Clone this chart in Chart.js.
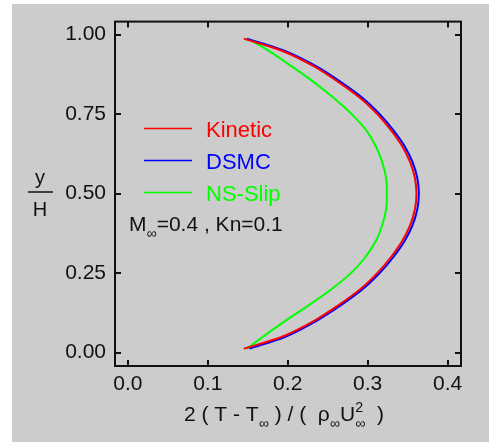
<!DOCTYPE html>
<html>
<head>
<meta charset="utf-8">
<script src="https://cdn.jsdelivr.net/npm/chart.js@4.4.1/dist/chart.umd.min.js"></script>
<style>
  html, body { margin: 0; padding: 0; background: #fff; }
  canvas { display: block; }
</style>
</head>
<body>
<canvas id="grafico" width="489" height="443"></canvas>
<script>
// y/H across the channel
const posY = [0.0125, 0.05, 0.10, 0.15, 0.20, 0.25, 0.30, 0.35, 0.40, 0.45, 0.50,
              0.55, 0.60, 0.65, 0.70, 0.75, 0.80, 0.85, 0.90, 0.95, 0.9875];
// 2 (T - Too) / (rho U^2) for each model
const kinetic = [0.145, 0.193, 0.233, 0.264, 0.291, 0.312, 0.329, 0.343, 0.353, 0.359, 0.361,
                 0.359, 0.353, 0.343, 0.329, 0.312, 0.291, 0.264, 0.233, 0.192, 0.145];
const dsmc = [0.152, 0.197, 0.236, 0.267, 0.294, 0.315, 0.332, 0.346, 0.356, 0.362, 0.364,
              0.362, 0.356, 0.346, 0.332, 0.315, 0.294, 0.267, 0.236, 0.195, 0.149];
const nsSlip = [0.149, 0.169, 0.197, 0.227, 0.255, 0.279, 0.297, 0.310, 0.318, 0.323, 0.324,
                0.323, 0.318, 0.310, 0.298, 0.280, 0.258, 0.233, 0.205, 0.176, 0.150];

const xTicks = [0, 0.1, 0.2, 0.3, 0.4];
const yTicks = [0, 0.25, 0.5, 0.75, 1];
const seriesNames = ['Kinetic', 'DSMC', 'NS-Slip'];
const seriesColors = ['#ff0000', '#0000ff', '#00ff00'];

const fonte = 'Liberation Sans, Arial, sans-serif';
const preto = '#111';

const makeSet = (i, values) => ({
    label: seriesNames[i],
    data: values.map((v, k) => ({ x: v, y: posY[k] })),
    borderColor: seriesColors[i],
    backgroundColor: seriesColors[i],
    borderWidth: 2,
    pointRadius: 0,
    showLine: true,
    fill: false,
    tension: 0.3,
});

// draws a run of text pieces, some of them lowered (sub) or raised (sup)
const drawRich = (c, pieces, x, base, size) => {
    pieces.forEach((p) => {
        let s = p.sub || p.sup ? size * 0.68 : size;
        c.font = `${s}px ${fonte}`;
        let dy = p.sub ? size * 0.32 : (p.sup ? -size * 0.45 : 0);
        c.fillText(p.t, x, base + dy);
        if (p.sub && p.over) {
            c.fillText(p.over, x, base - size * 0.45);
            x += Math.max(c.measureText(p.t).width, c.measureText(p.over).width);
        } else {
            x += c.measureText(p.t).width;
        }
    });
};

const richWidth = (c, pieces, size) => {
    let w = 0;
    pieces.forEach((p) => {
        let s = p.sub || p.sup ? size * 0.68 : size;
        c.font = `${s}px ${fonte}`;
        w += p.over ? Math.max(c.measureText(p.t).width, c.measureText(p.over).width) : c.measureText(p.t).width;
    });
    return w;
};

const moldura = {
    id: 'moldura',
    beforeDraw(chart) {
        const c = chart.ctx;
        c.save();
        c.fillStyle = '#cccccc';
        c.fillRect(12, 4, 477, 438);
        c.restore();
    },
    afterDraw(chart) {
        const c = chart.ctx;
        const a = chart.chartArea;
        const sx = chart.scales.x;
        const sy = chart.scales.y;
        c.save();
        c.strokeStyle = preto;
        c.lineWidth = 2;
        c.strokeRect(a.left, a.top, a.right - a.left, a.bottom - a.top);

        // inward ticks on all four sides
        const tam = 6;
        c.beginPath();
        xTicks.forEach((v) => {
            const px = Math.round(sx.getPixelForValue(v));
            c.moveTo(px, a.bottom); c.lineTo(px, a.bottom - tam);
            c.moveTo(px, a.top); c.lineTo(px, a.top + tam);
        });
        yTicks.forEach((v) => {
            const py = Math.round(sy.getPixelForValue(v));
            c.moveTo(a.left, py); c.lineTo(a.left + tam, py);
            c.moveTo(a.right, py); c.lineTo(a.right - tam, py);
        });
        c.stroke();

        // legend
        c.textAlign = 'left';
        c.textBaseline = 'alphabetic';
        c.font = `22px ${fonte}`;
        chart.data.datasets.forEach((ds, i) => {
            const ly = 128.5 + i * 32;
            c.strokeStyle = ds.borderColor;
            c.lineWidth = 1.5;
            c.beginPath();
            c.moveTo(144, ly); c.lineTo(192, ly);
            c.stroke();
            c.fillStyle = ds.borderColor;
            c.fillText(ds.label, 206, ly + 8);
        });

        // flow parameters
        c.fillStyle = preto;
        drawRich(c, [{ t: 'M' }, { t: '∞', sub: true }, { t: '=0.4 , Kn=0.1' }], 129, 231, 21);

        // x axis title
        const tituloX = [
            { t: '2 ( T - T' }, { t: '∞', sub: true }, { t: ' ) / (  ρ' }, { t: '∞', sub: true },
            { t: 'U' }, { t: '∞', sub: true, over: '2' }, { t: '  )' },
        ];
        const w = richWidth(c, tituloX, 21);
        drawRich(c, tituloX, 284 - w / 2, 421, 21);

        // y axis title as a fraction y / H
        c.textAlign = 'center';
        c.font = `20px ${fonte}`;
        c.fillText('y', 40, 184);
        c.fillText('H', 40, 216);
        c.strokeStyle = preto;
        c.lineWidth = 1.5;
        c.beginPath();
        c.moveTo(28, 192); c.lineTo(53, 192);
        c.stroke();
        c.restore();
    },
};

new Chart(document.getElementById('grafico'), {
    type: 'scatter',
    data: {
        datasets: [makeSet(0, kinetic), makeSet(1, dsmc), makeSet(2, nsSlip)],
    },
    options: {
        responsive: false,
        devicePixelRatio: 1,
        animation: false,
        layout: { padding: { top: 20, right: 28, left: 0, bottom: 0 } },
        plugins: { legend: { display: false }, tooltip: { enabled: false } },
        scales: {
            x: {
                type: 'linear',
                min: -0.016,
                max: 0.4167,
                afterBuildTicks: (s) => { s.ticks = xTicks.map((v) => ({ value: v })); },
                afterFit: (s) => { s.height = 77; },
                grid: { display: false, drawTicks: false },
                border: { display: false },
                ticks: {
                    font: { family: fonte, size: 21 },
                    color: preto,
                    padding: 6,
                    maxRotation: 0,
                    callback: (v) => v.toFixed(1),
                },
            },
            y: {
                type: 'linear',
                min: -0.042,
                max: 1.041,
                afterBuildTicks: (s) => { s.ticks = yTicks.map((v) => ({ value: v })); },
                afterFit: (s) => { s.width = 115; },
                grid: { display: false, drawTicks: false },
                border: { display: false },
                ticks: {
                    font: { family: fonte, size: 21 },
                    color: preto,
                    padding: 9,
                    callback: (v) => v.toFixed(2),
                },
            },
        },
    },
    plugins: [moldura],
});
</script>
</body>
</html>
